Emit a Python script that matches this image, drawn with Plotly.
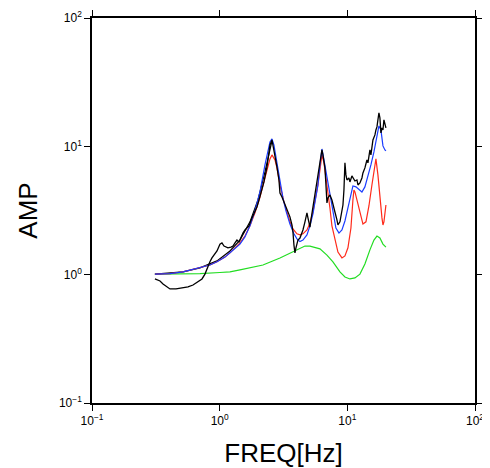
import plotly.graph_objects as go

# ---- data ----
red_f = [0.311, 0.408, 0.516, 0.701, 0.839, 0.953, 1.10, 1.204, 1.442, 1.578, 1.727, 1.890, 2.069, 2.264, 2.389,
         2.477, 2.568, 2.711, 2.810, 2.967, 3.188, 3.365, 3.552, 3.750, 4.030, 4.255, 4.491, 4.827, 5.095, 5.378,
         5.68, 5.886, 6.102, 6.326, 6.56, 6.922, 7.307, 7.575, 7.996, 8.441, 9.073, 9.577, 10.11, 10.67, 11.06,
         11.26, 11.47, 11.89, 12.55, 13.25, 13.99, 14.76, 15.58, 16.16, 16.75, 17.36, 18.00, 18.67, 19.01, 19.35, 20.06]
red_a = [1.01, 1.02, 1.05, 1.13, 1.19, 1.26, 1.37, 1.48, 1.77, 2.00, 2.40, 3.03, 4.03, 5.67, 7.03,
         7.98, 8.57, 7.83, 6.79, 5.00, 3.69, 3.03, 2.58, 2.27, 2.08, 2.04, 2.08, 2.23, 2.53, 3.08,
         4.11, 5.00, 6.55, 8.57, 7.43, 5.18, 3.31, 2.40, 1.86, 1.50, 1.35, 1.40, 1.62, 2.31, 3.82,
         4.57, 4.41, 3.82, 2.97, 2.48, 2.58, 3.43, 5.00, 6.55, 7.98, 5.99, 3.82, 2.77, 2.44, 2.58, 3.49]

blue_f = [0.311, 0.408, 0.516, 0.701, 0.839, 0.953, 1.10, 1.204, 1.442, 1.578, 1.727, 1.890, 2.069, 2.264, 2.389,
          2.477, 2.568, 2.66, 2.810, 2.967, 3.13, 3.306, 3.552, 3.818, 4.030, 4.255, 4.491, 4.827, 5.095, 5.378,
          5.68, 5.886, 6.102, 6.326, 6.56, 6.922, 7.307, 7.713, 8.14, 8.60, 9.073, 9.577, 10.11, 10.67, 11.06,
          11.68, 12.33, 13.01, 13.73, 14.50, 15.30, 16.16, 17.06, 17.68, 18.33, 18.67, 19.01, 19.70, 20.06]
blue_a = [1.01, 1.02, 1.05, 1.13, 1.19, 1.26, 1.37, 1.48, 1.73, 1.97, 2.40, 3.14, 4.41, 7.16, 9.37,
          10.82, 11.42, 10.25, 7.43, 5.28, 3.96, 3.14, 2.48, 2.08, 1.90, 1.81, 1.86, 2.04, 2.40, 2.97,
          4.03, 5.00, 7.16, 9.54, 7.83, 5.77, 3.96, 2.92, 2.31, 2.11, 2.23, 2.62, 3.37, 4.41, 4.91,
          4.83, 4.57, 4.41, 4.83, 5.77, 7.16, 9.04, 11.63, 14.42, 13.42, 11.63, 10.07, 9.37, 9.21]

green_f = [0.311, 0.489, 0.701, 1.005, 1.204, 1.442, 1.727, 2.184, 2.967, 4.030, 4.656, 5.095, 5.576, 6.102,
           6.922, 7.713, 8.751, 9.577, 10.48, 11.47, 12.55, 13.73, 15.03, 16.16, 17.06, 18.00, 19.01, 20.06]
green_a = [1.01, 1.01, 1.02, 1.04, 1.05, 1.09, 1.13, 1.19, 1.35, 1.56, 1.67, 1.67, 1.64, 1.59,
           1.42, 1.26, 1.05, 0.96, 0.926, 0.943, 1.01, 1.21, 1.56, 1.86, 2.00, 1.93, 1.73, 1.64]

black2_f = [0.311, 0.516, 0.701, 0.953, 1.204, 1.442, 1.727, 1.995, 2.264, 2.477, 2.568]
black2_a = [1.01, 1.05, 1.13, 1.28, 1.53, 1.86, 2.58, 3.82, 6.32, 9.37, 11.02]

obs_f = [0.311, 0.341, 0.360, 0.387, 0.408, 0.455, 0.516, 0.565, 0.618, 0.676, 0.727, 0.767, 0.795, 0.839,
         0.870, 0.919, 0.953, 1.005, 1.042, 1.081, 1.161, 1.226, 1.271, 1.318, 1.366, 1.416, 1.468, 1.522,
         1.578, 1.636, 1.696, 1.790, 1.890, 1.959, 2.032, 2.145, 2.223, 2.347, 2.433, 2.477, 2.568, 2.615,
         2.711, 2.810, 2.913, 2.967, 3.076, 3.188, 3.306, 3.426, 3.552, 3.683, 3.750, 3.818, 3.888, 3.958,
         4.104, 4.255, 4.491, 4.656, 4.827, 4.915, 5.095, 5.188, 5.378, 5.576, 5.781, 5.993, 6.102, 6.326,
         6.441, 6.677, 6.799, 6.922, 7.048, 7.307, 7.575, 7.713, 7.996, 8.291, 8.441, 8.751, 9.073, 9.238,
         9.406, 9.577, 9.750, 9.929, 10.29, 10.48, 10.86, 11.06, 11.47, 11.89, 12.11, 12.55, 13.01, 13.25,
         13.73, 14.24, 14.50, 15.03, 15.30, 15.87, 16.45, 16.75, 17.06, 17.36, 17.68, 18.00, 18.33, 18.67,
         19.01, 19.35, 19.70, 20.06]
obs_a = [0.926, 0.893, 0.846, 0.802, 0.774, 0.774, 0.788, 0.802, 0.831, 0.877, 0.926, 1.01, 1.11, 1.26,
         1.35, 1.45, 1.53, 1.73, 1.77, 1.67, 1.62, 1.64, 1.67, 1.77, 1.86, 1.80, 1.97, 2.11,
         2.23, 2.31, 2.40, 2.77, 3.08, 3.37, 3.82, 4.57, 5.28, 6.91, 9.04, 10.25, 11.22, 10.25,
         8.12, 6.91, 5.47, 4.33, 4.03, 3.69, 3.43, 3.19, 2.82, 2.44, 2.15, 1.70, 1.48, 1.62,
         1.86, 1.93, 2.23, 2.58, 3.03, 2.77, 2.35, 2.67, 3.37, 4.18, 5.18, 6.55, 7.43, 9.37,
         8.57, 6.79, 5.00, 3.62, 3.96, 4.18, 3.82, 3.49, 3.08, 2.67, 2.44, 2.58, 3.03, 3.49,
         4.57, 7.43, 5.99, 5.47, 5.67, 5.28, 5.88, 5.67, 5.37, 5.47, 5.00, 5.18, 5.67, 6.20,
         6.79, 7.83, 7.43, 9.37, 8.57, 11.22, 12.27, 13.42, 14.17, 16.06, 18.21, 16.65, 12.72, 13.91,
         13.42, 16.06, 15.22, 13.91]

tick_vals = [0.1, 1, 10, 100]
tick_text = ["10<sup>\u22121</sup>", "10<sup>0</sup>", "10<sup>1</sup>", "10<sup>2</sup>"]

FONT = "Liberation Sans, Arial, sans-serif"

fig = go.Figure()
fig.add_trace(go.Scatter(x=green_f, y=green_a, mode="lines", line=dict(color="#22dd22", width=1.2)))
fig.add_trace(go.Scatter(x=black2_f, y=black2_a, mode="lines", line=dict(color="black", width=1.2)))
fig.add_trace(go.Scatter(x=red_f, y=red_a, mode="lines", line=dict(color="#ff2a1a", width=1.2)))
fig.add_trace(go.Scatter(x=blue_f, y=blue_a, mode="lines", line=dict(color="#1a3cff", width=1.2)))
fig.add_trace(go.Scatter(x=obs_f, y=obs_a, mode="lines", line=dict(color="black", width=1.3)))

axis_common = dict(
    type="log", showgrid=False, zeroline=False, showline=True, linecolor="black", linewidth=1.5,
    mirror="ticks", ticks="outside", ticklen=6, tickwidth=1, tickcolor="black",
    tickvals=tick_vals, ticktext=tick_text, automargin=False,
    tickfont=dict(family=FONT, size=12, color="black"),
)
fig.update_xaxes(range=[-1, 2], title=dict(text="FREQ[Hz]", font=dict(family=FONT, size=26, color="black"), standoff=19), **axis_common)
fig.update_yaxes(range=[-1, 2], title=dict(text="AMP", font=dict(family=FONT, size=26, color="black"), standoff=14), **axis_common)

# page body has an 8px default margin, so the figure is sized/offset to compensate
fig.update_layout(
    width=482, height=460, showlegend=False,
    margin=dict(l=84, r=15, t=10, b=65, autoexpand=False),
    paper_bgcolor="white", plot_bgcolor="white",
)
fig.write_html("out.html")
